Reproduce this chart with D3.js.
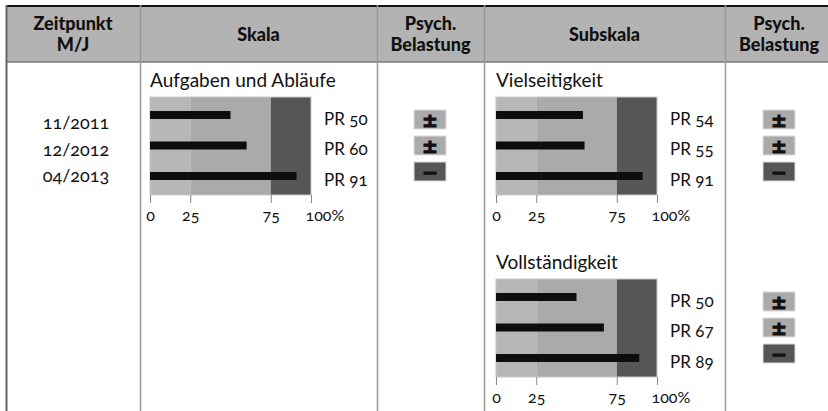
<!DOCTYPE html>
<html lang="de">
<head>
<meta charset="utf-8">
<title>Psychische Belastung</title>
<script src="https://cdn.jsdelivr.net/npm/d3@7"></script>
<style>
  body { margin: 0; background: #fff; }
  svg text { font-family: Lato, "Open Sans", sans-serif; fill: #111; font-variant-numeric: oldstyle-nums; }
  .head { font-weight: 900; font-size: 18px; }
  .tick line { stroke: #888; }
  svg text.sym { font-family: "DejaVu Sans", sans-serif; }
</style>
</head>
<body>
<script>
var w = 828, h = 411;

// data
var dates = ["11/2011", "12/2012", "04/2013"];
var headers = [["Zeitpunkt", "M/J"], ["Skala"], ["Psych.", "Belastung"], ["Subskala"], ["Psych.", "Belastung"]];
var scaleName = "Aufgaben und Abläufe";
var scaleValues = [50, 60, 91];
var scaleStatus = ["±", "±", "−"];
var subNames = ["Vielseitigkeit", "Vollständigkeit"];
var subValues = [[54, 55, 91], [50, 67, 89]];
var subStatus = [["±", "±", "−"], ["±", "±", "−"]];
var bandEdges = [0, 25, 75, 100];
var bandColors = ["#b7b7b7", "#aaaaaa", "#565656"];
var tickValues = [0, 25, 75, 100];

var colX = [6, 140, 377, 484, 725, 836];
var headTop = 7, headBottom = 62;

var svg = d3.select("body").append("svg")
    .attr("width", w).attr("height", h);

// header background
svg.append("rect")
   .attr("x", colX[0]).attr("y", headTop)
   .attr("width", w - colX[0]).attr("height", headBottom - headTop)
   .attr("fill", "#b3b3b3");

headers.forEach(function(lines, i) {
    var cx = (colX[i] + colX[i + 1]) / 2;
    if (i == 4) cx = 779;
    var t = svg.append("text").attr("class", "head")
        .attr("text-anchor", "middle")
        .attr("x", cx)
        .attr("y", lines.length == 1 ? 41 : 30);
    lines.forEach(function(l, j) {
        t.append("tspan").attr("x", cx).attr("dy", j == 0 ? 0 : 21).text(l);
    });
});

// grid lines
svg.append("line").attr("x1", colX[0]).attr("x2", w).attr("y1", 6).attr("y2", 6)
   .attr("stroke", "#111").attr("stroke-width", 2);
svg.append("line").attr("x1", colX[0]).attr("x2", w).attr("y1", headBottom).attr("y2", headBottom)
   .attr("stroke", "#7a7a7a").attr("stroke-width", 1.5);
svg.selectAll("line.col")
   .data(colX.slice(0, 5))
   .enter().append("line").attr("class", "col")
   .attr("x1", function(d) { return d + 0.5; })
   .attr("x2", function(d) { return d + 0.5; })
   .attr("y1", 5).attr("y2", h)
   .attr("stroke", function(d, i) { return i == 0 ? "#666" : "#999"; })
   .attr("stroke-width", function(d, i) { return i == 0 ? 2 : 1.5; });

// dates
var dateY = d3.scalePoint().domain(dates).range([25, 78]);
svg.selectAll("text.date")
   .data(dates)
   .enter().append("text").attr("class", "date")
   .attr("x", 76)
   .attr("y", function(d) { return 97 + dateY(d); })
   .attr("text-anchor", "middle")
   .attr("dominant-baseline", "central")
   .attr("font-size", "18px")
   .text(function(d) { return d; });

function drawChart(x0, top, name, values, status, statusX) {
    var g = svg.append("g").attr("transform", "translate(0," + top + ")");
    var x = d3.scaleLinear().domain([0, 100]).range([x0, x0 + 161]);
    var yBar = d3.scalePoint().domain(dates).range([18, 79]);
    var yBox = d3.scalePoint().domain(dates).range([22.5, 74.5]);
    var boxH = 98;

    g.append("text")
     .attr("x", x0).attr("y", -10)
     .attr("font-size", "19px")
     .text(name);

    var bands = d3.range(bandColors.length);
    g.selectAll("rect.band")
     .data(bands)
     .enter().append("rect").attr("class", "band")
     .attr("x", function(i) { return x(bandEdges[i]); })
     .attr("y", 0)
     .attr("width", function(i) { return x(bandEdges[i + 1]) - x(bandEdges[i]); })
     .attr("height", boxH)
     .attr("fill", function(i) { return bandColors[i]; });

    g.append("rect")
     .attr("x", x(0)).attr("y", 0)
     .attr("width", x(100) - x(0)).attr("height", boxH)
     .attr("fill", "none").attr("stroke", "#c8c8c8");

    g.selectAll("rect.bar")
     .data(values)
     .enter().append("rect").attr("class", "bar")
     .attr("x", x(0))
     .attr("y", function(d, i) { return yBar(dates[i]) - 4; })
     .attr("width", function(d) { return x(d) - x(0); })
     .attr("height", 8)
     .attr("fill", "#0d0d0d");

    g.selectAll("text.pr")
     .data(values)
     .enter().append("text").attr("class", "pr")
     .attr("x", x(100) + 13)
     .attr("y", function(d, i) { return yBar(dates[i]) + 3; })
     .attr("dominant-baseline", "central")
     .attr("font-size", "17px")
     .text(function(d) { return "PR " + d; });

    var axis = d3.axisBottom(x)
        .tickValues(tickValues)
        .tickSize(8)
        .tickPadding(7)
        .tickFormat(function(d) { return d == 100 ? "100%" : d; });
    var ax = g.append("g")
        .attr("transform", "translate(0," + boxH + ")")
        .call(axis);
    ax.select(".domain").remove();
    ax.selectAll(".tick text")
      .attr("font-family", null)
      .attr("font-size", "16px")
      .attr("fill", "#111")
      .filter(function(d) { return d == 100; })
      .attr("text-anchor", "start").attr("dx", -6);

    var sg = g.selectAll("g.status")
     .data(status)
     .enter().append("g").attr("class", "status")
     .attr("transform", function(d, i) {
         return "translate(" + statusX + "," + yBox(dates[i]) + ")";
     });
    sg.append("rect")
      .attr("x", -16).attr("y", -9.5)
      .attr("width", 32).attr("height", 19)
      .attr("fill", function(d) { return d == "±" ? "#aaaaaa" : "#565656"; })
      .attr("stroke", "#dcdcdc").attr("stroke-width", 1);
    sg.append("text").attr("class", "sym")
      .attr("text-anchor", "middle")
      .attr("dominant-baseline", "central")
      .attr("font-weight", "bold")
      .attr("font-size", "19px")
      .attr("fill", "#111")
      .attr("stroke", "#111")
      .attr("stroke-width", 1.1)
      .text(function(d) { return d; });
}

drawChart(150, 97, scaleName, scaleValues, scaleStatus, 430);
drawChart(496, 97, subNames[0], subValues[0], subStatus[0], 779);
drawChart(496, 279, subNames[1], subValues[1], subStatus[1], 779);
</script>
</body>
</html>
